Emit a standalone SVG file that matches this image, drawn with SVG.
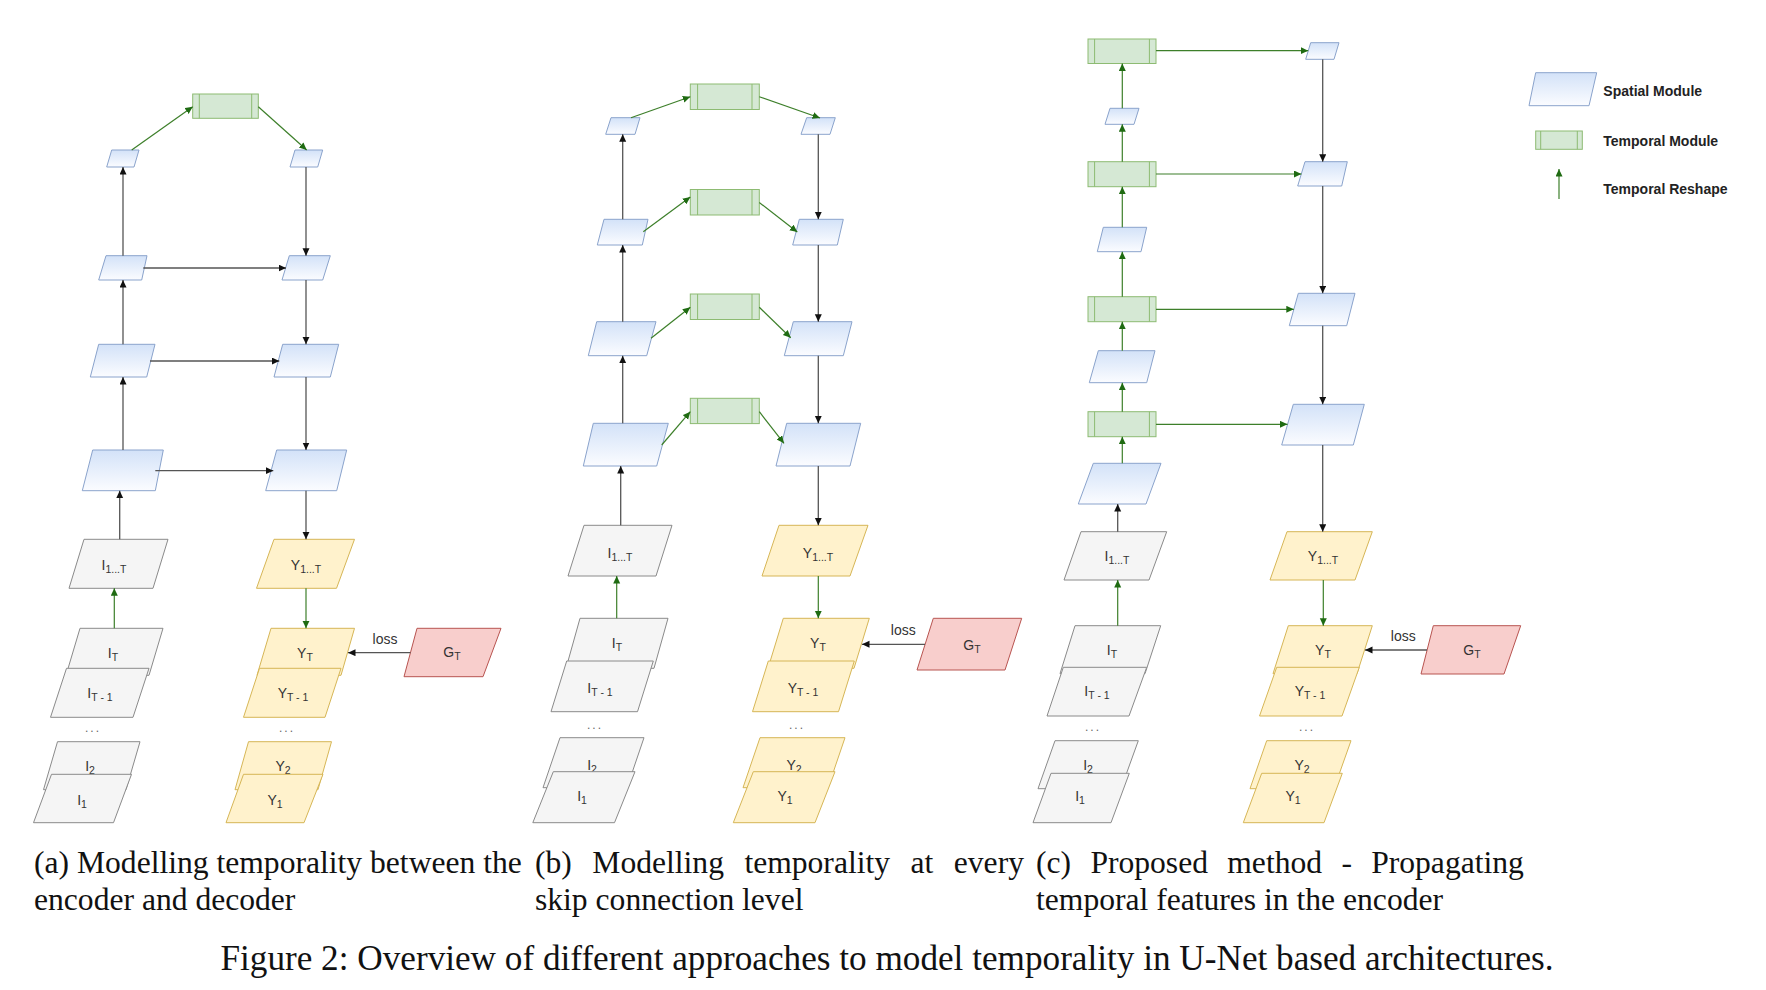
<svg xmlns="http://www.w3.org/2000/svg" width="1766" height="990" viewBox="0 0 1766 990">
<defs>
<linearGradient id="gBlue" x1="0" y1="0" x2="0" y2="1">
<stop offset="0" stop-color="#d3e2f8"/>
<stop offset="1" stop-color="#fbfcff"/>
</linearGradient>
<marker id="ab" markerWidth="9" markerHeight="8" refX="7.5" refY="3.5" orient="auto" markerUnits="userSpaceOnUse"><path d="M0,0 L7.5,3.5 L0,7 z" fill="#111"/></marker>
<marker id="ag" markerWidth="9" markerHeight="8" refX="7.5" refY="3.5" orient="auto" markerUnits="userSpaceOnUse"><path d="M0,0 L7.5,3.5 L0,7 z" fill="#1f6b12"/></marker>
<style>
.sp{fill:url(#gBlue);stroke:#8aa3cc;stroke-width:1}
.tm{fill:#d5e8d4;stroke:#8dbb72;stroke-width:1}
.tmi{stroke:#8dbb72;stroke-width:1;fill:none}
.gr{fill:#f5f5f5;stroke:#8a8a8a;stroke-width:1}
.yl{fill:#fff2cc;stroke:#d6b656;stroke-width:1}
.pk{fill:#f8cecc;stroke:#b85450;stroke-width:1}
.lbl{font-family:"Liberation Sans",Arial,sans-serif;font-size:14px;fill:#333;text-anchor:middle}
.sub{font-size:10.5px}
.dots{font-family:"Liberation Sans",Arial,sans-serif;font-size:12px;fill:#666;text-anchor:middle;letter-spacing:2px}
.blk{stroke:#555;stroke-width:1.3;fill:none;marker-end:url(#ab)}
.grn{stroke:#3d7f2a;stroke-width:1.2;fill:none;marker-end:url(#ag)}
.leg{font-family:"Liberation Sans",Arial,sans-serif;font-size:14px;font-weight:bold;fill:#222}
.cap{font-family:"Liberation Serif","Times New Roman",serif;font-size:31.6px;fill:#111}
.fig{font-family:"Liberation Serif","Times New Roman",serif;font-size:35.2px;fill:#111}
</style>
</defs>
<rect width="1766" height="990" fill="#ffffff"/>

<!-- ================= Panel (a) ================= -->
<g id="a_nodes">
<g id="a_T1"><rect class="tm" x="192.7" y="94" width="65.6" height="24.3"/><line class="tmi" x1="199.3" y1="94" x2="199.3" y2="118.3"/><line class="tmi" x1="251.7" y1="94" x2="251.7" y2="118.3"/></g>
<g id="a_L1"><polygon class="sp" points="111.7,150 139,150 134,167 106.7,167"/></g>
<g id="a_L2"><polygon class="sp" points="106,255.7 147,255.7 141.7,280 98.7,280"/></g>
<g id="a_L3"><polygon class="sp" points="98.7,344.3 155,344.3 146.7,377 90.3,377"/></g>
<g id="a_L4"><polygon class="sp" points="92.7,450 163.3,450 155.3,490.7 82.3,490.7"/></g>
<g id="a_R1"><polygon class="sp" points="295,150 322.7,150 317.7,167 290,167"/></g>
<g id="a_R2"><polygon class="sp" points="289.3,255.7 330.3,255.7 322.7,280 282,280"/></g>
<g id="a_R3"><polygon class="sp" points="282.7,344.3 338.7,344.3 330.3,377 274,377"/></g>
<g id="a_R4"><polygon class="sp" points="276.7,450 346.7,450 336.7,490.7 265.7,490.7"/></g>
<g id="a_I1T"><polygon class="gr" points="84,539.3 168,539.3 153,588.3 69,588.3"/><text class="lbl" x="114" y="570">I<tspan class="sub" dy="3">1...T</tspan></text></g>
<g id="a_IT"><polygon class="gr" points="80,628.3 163,628.3 149,675.3 66,675.3"/><text class="lbl" x="113" y="658">I<tspan class="sub" dy="3">T</tspan></text></g>
<g id="a_IT1"><polygon class="gr" points="66.5,668.3 149,668.3 133,717.3 50.5,717.3"/><text class="lbl" x="100" y="698">I<tspan class="sub" dy="3">T - 1</tspan></text></g>
<text class="dots" x="93" y="732">...</text>
<g id="a_I2"><polygon class="gr" points="57.5,741.7 140,741.7 126,789.7 43.5,789.7"/><text class="lbl" x="90" y="771">I<tspan class="sub" dy="3">2</tspan></text></g>
<g id="a_I1"><polygon class="gr" points="51.5,774.3 131.5,774.3 113.5,822.7 33.5,822.7"/><text class="lbl" x="82" y="804.5">I<tspan class="sub" dy="3">1</tspan></text></g>
<g id="a_Y1T"><polygon class="yl" points="274,539.3 354.5,539.3 336.5,588.3 256.5,588.3"/><text class="lbl" x="306" y="570">Y<tspan class="sub" dy="3">1...T</tspan></text></g>
<g id="a_YT"><polygon class="yl" points="271,628.3 354.5,628.3 341,675.3 257,675.3"/><text class="lbl" x="305" y="658">Y<tspan class="sub" dy="3">T</tspan></text></g>
<g id="a_YT1"><polygon class="yl" points="259.5,668.3 341,668.3 325,717.3 243.5,717.3"/><text class="lbl" x="293" y="698">Y<tspan class="sub" dy="3">T - 1</tspan></text></g>
<text class="dots" x="287" y="732">...</text>
<g id="a_Y2"><polygon class="yl" points="248.5,741.7 331.5,741.7 318,789.7 235,789.7"/><text class="lbl" x="283" y="771">Y<tspan class="sub" dy="3">2</tspan></text></g>
<g id="a_Y1"><polygon class="yl" points="243.5,774.3 323,774.3 304,822.7 226,822.7"/><text class="lbl" x="275" y="804.5">Y<tspan class="sub" dy="3">1</tspan></text></g>
<g id="a_GT"><polygon class="pk" points="417,628.3 501,628.3 483,676.7 404,676.7"/><text class="lbl" x="452" y="656.5">G<tspan class="sub" dy="3">T</tspan></text></g>
</g>
<g id="a_edges">
<line class="grn" x1="131.7" y1="150" x2="192.7" y2="106.7"/>
<line class="grn" x1="258.3" y1="106.7" x2="306.7" y2="150"/>
<line class="blk" x1="123" y1="255.7" x2="123" y2="167"/>
<line class="blk" x1="123" y1="344.3" x2="123" y2="280"/>
<line class="blk" x1="123" y1="450" x2="123" y2="377"/>
<line class="blk" x1="119.7" y1="539.3" x2="119.7" y2="490.7"/>
<line class="grn" x1="114.3" y1="628.3" x2="114.3" y2="588.3"/>
<line class="blk" x1="306" y1="167" x2="306" y2="255.7"/>
<line class="blk" x1="306" y1="280" x2="306" y2="344.3"/>
<line class="blk" x1="306" y1="377" x2="306" y2="450"/>
<line class="blk" x1="306" y1="490.7" x2="306" y2="539.3"/>
<line class="grn" x1="306" y1="588.3" x2="306" y2="628.3"/>
<line class="blk" x1="143.3" y1="268" x2="286" y2="268"/>
<line class="blk" x1="150" y1="361" x2="279.3" y2="361"/>
<line class="blk" x1="155.3" y1="470.7" x2="273.3" y2="470.7"/>
<line class="blk" x1="410.5" y1="652.7" x2="348" y2="652.7"/>
<text class="lbl" x="385" y="644">loss</text>
</g>

<!-- ================= Panel (b) ================= -->
<g id="b_nodes">
<g id="b_T1"><rect class="tm" x="690.3" y="84" width="69" height="25.5"/><line class="tmi" x1="697.6" y1="84" x2="697.6" y2="109.5"/><line class="tmi" x1="752" y1="84" x2="752" y2="109.5"/></g>
<g id="b_T2"><rect class="tm" x="690.3" y="189.5" width="69" height="25.5"/><line class="tmi" x1="697.6" y1="189.5" x2="697.6" y2="215"/><line class="tmi" x1="752" y1="189.5" x2="752" y2="215"/></g>
<g id="b_T3"><rect class="tm" x="690.3" y="294" width="69" height="25.5"/><line class="tmi" x1="697.6" y1="294" x2="697.6" y2="319.5"/><line class="tmi" x1="752" y1="294" x2="752" y2="319.5"/></g>
<g id="b_T4"><rect class="tm" x="690.3" y="398.3" width="69" height="25.3"/><line class="tmi" x1="697.6" y1="398.3" x2="697.6" y2="423.6"/><line class="tmi" x1="752" y1="398.3" x2="752" y2="423.6"/></g>
<g id="b_L1"><polygon class="sp" points="611,117.7 640,117.7 635,134.3 605.7,134.3"/></g>
<g id="b_L2"><polygon class="sp" points="604,219.3 648,219.3 642.3,245 597.3,245"/></g>
<g id="b_L3"><polygon class="sp" points="596.7,321.7 656,321.7 646.7,355.7 588.3,355.7"/></g>
<g id="b_L4"><polygon class="sp" points="593.3,423.3 668.3,423.3 656.7,466 583.3,466"/></g>
<g id="b_R1"><polygon class="sp" points="806.7,117.7 835.3,117.7 830,134.3 801,134.3"/></g>
<g id="b_R2"><polygon class="sp" points="799.3,219.3 843.3,219.3 837.3,245 792.7,245"/></g>
<g id="b_R3"><polygon class="sp" points="793.3,321.7 852,321.7 843.3,355.7 784.3,355.7"/></g>
<g id="b_R4"><polygon class="sp" points="786.7,423.3 860.7,423.3 850,466 776,466"/></g>
<g id="b_I1T"><polygon class="gr" points="584,525.3 672,525.3 656,576 568,576"/><text class="lbl" x="620" y="558">I<tspan class="sub" dy="3">1...T</tspan></text></g>
<g id="b_IT"><polygon class="gr" points="580,618.3 668,618.3 654,668.3 566,668.3"/><text class="lbl" x="617" y="648">I<tspan class="sub" dy="3">T</tspan></text></g>
<g id="b_IT1"><polygon class="gr" points="566.7,661 653.3,661 637.5,711.7 551,711.7"/><text class="lbl" x="600" y="693">I<tspan class="sub" dy="3">T - 1</tspan></text></g>
<text class="dots" x="595" y="729">...</text>
<g id="b_I2"><polygon class="gr" points="560,737.7 644,737.7 627,787.7 543,787.7"/><text class="lbl" x="592" y="769.5">I<tspan class="sub" dy="3">2</tspan></text></g>
<g id="b_I1"><polygon class="gr" points="553.3,771.7 635,771.7 614.5,822.7 532.8,822.7"/><text class="lbl" x="582" y="801">I<tspan class="sub" dy="3">1</tspan></text></g>
<g id="b_Y1T"><polygon class="yl" points="779,525.3 868,525.3 850,576 762,576"/><text class="lbl" x="818" y="558">Y<tspan class="sub" dy="3">1...T</tspan></text></g>
<g id="b_YT"><polygon class="yl" points="783.3,618.3 869.3,618.3 854,668.3 768,668.3"/><text class="lbl" x="818" y="648">Y<tspan class="sub" dy="3">T</tspan></text></g>
<g id="b_YT1"><polygon class="yl" points="768.3,661 854.3,661 838.5,711.7 752.5,711.7"/><text class="lbl" x="803" y="693">Y<tspan class="sub" dy="3">T - 1</tspan></text></g>
<text class="dots" x="797" y="729">...</text>
<g id="b_Y2"><polygon class="yl" points="760,737.7 845,737.7 828,787.7 743,787.7"/><text class="lbl" x="794" y="769.5">Y<tspan class="sub" dy="3">2</tspan></text></g>
<g id="b_Y1"><polygon class="yl" points="753.3,771.7 835,771.7 815,822.7 733.3,822.7"/><text class="lbl" x="785" y="801">Y<tspan class="sub" dy="3">1</tspan></text></g>
<g id="b_GT"><polygon class="pk" points="933.3,618.3 1021.7,618.3 1005,670 917,670"/><text class="lbl" x="972" y="649.5">G<tspan class="sub" dy="3">T</tspan></text></g>
</g>
<g id="b_edges">
<line class="grn" x1="631" y1="117.7" x2="690.3" y2="96.7"/>
<line class="grn" x1="759.3" y1="96.7" x2="820" y2="118"/>
<line class="grn" x1="643.3" y1="231.7" x2="690.3" y2="197"/>
<line class="grn" x1="759.3" y1="202.5" x2="797.3" y2="232"/>
<line class="grn" x1="651" y1="338.3" x2="690.3" y2="307.3"/>
<line class="grn" x1="759.3" y1="307.3" x2="790.7" y2="337.7"/>
<line class="grn" x1="661.7" y1="445" x2="690.3" y2="411.7"/>
<line class="grn" x1="759.3" y1="411.7" x2="784" y2="443.3"/>
<line class="blk" x1="622.7" y1="219.3" x2="622.7" y2="134.3"/>
<line class="blk" x1="622.7" y1="321.7" x2="622.7" y2="245"/>
<line class="blk" x1="622.7" y1="423.3" x2="622.7" y2="355.7"/>
<line class="blk" x1="620.7" y1="525.3" x2="620.7" y2="466"/>
<line class="grn" x1="616.7" y1="618.3" x2="616.7" y2="576"/>
<line class="blk" x1="818.3" y1="134.3" x2="818.3" y2="219.3"/>
<line class="blk" x1="818.3" y1="245" x2="818.3" y2="321.7"/>
<line class="blk" x1="818.3" y1="355.7" x2="818.3" y2="423.3"/>
<line class="blk" x1="818.3" y1="466" x2="818.3" y2="525.3"/>
<line class="grn" x1="818.3" y1="576" x2="818.3" y2="618.3"/>
<line class="blk" x1="925" y1="644.3" x2="862" y2="644.3"/>
<text class="lbl" x="903.3" y="634.5">loss</text>
</g>

<!-- ================= Panel (c) ================= -->
<g id="c_nodes">
<g id="c_T1"><rect class="tm" x="1088" y="39" width="68" height="24.5"/><line class="tmi" x1="1094.6" y1="39" x2="1094.6" y2="63.5"/><line class="tmi" x1="1149.4" y1="39" x2="1149.4" y2="63.5"/></g>
<g id="c_T2"><rect class="tm" x="1088" y="161.7" width="68" height="25"/><line class="tmi" x1="1094.6" y1="161.7" x2="1094.6" y2="186.7"/><line class="tmi" x1="1149.4" y1="161.7" x2="1149.4" y2="186.7"/></g>
<g id="c_T3"><rect class="tm" x="1088" y="296.7" width="68" height="25"/><line class="tmi" x1="1094.6" y1="296.7" x2="1094.6" y2="321.7"/><line class="tmi" x1="1149.4" y1="296.7" x2="1149.4" y2="321.7"/></g>
<g id="c_T4"><rect class="tm" x="1088" y="411.7" width="68" height="25"/><line class="tmi" x1="1094.6" y1="411.7" x2="1094.6" y2="436.7"/><line class="tmi" x1="1149.4" y1="411.7" x2="1149.4" y2="436.7"/></g>
<g id="c_L1"><polygon class="sp" points="1110,108.3 1139,108.3 1134,124.3 1105,124.3"/></g>
<g id="c_L2"><polygon class="sp" points="1103.3,227.3 1146.7,227.3 1141,251.7 1097.3,251.7"/></g>
<g id="c_L3"><polygon class="sp" points="1098.3,350.7 1155,350.7 1146.7,382.7 1089.3,382.7"/></g>
<g id="c_L4"><polygon class="sp" points="1093.3,463.3 1161,463.3 1146,504 1078.3,504"/></g>
<g id="c_R1"><polygon class="sp" points="1310.7,42.7 1339,42.7 1334,59.3 1305.7,59.3"/></g>
<g id="c_R2"><polygon class="sp" points="1305,161.7 1347.3,161.7 1341.7,186 1297.7,186"/></g>
<g id="c_R3"><polygon class="sp" points="1298.3,293.3 1355,293.3 1346.7,325.7 1289.3,325.7"/></g>
<g id="c_R4"><polygon class="sp" points="1293.3,404.3 1364.3,404.3 1353.3,445 1281.7,445"/></g>
<g id="c_I1T"><polygon class="gr" points="1081,531.7 1166.7,531.7 1149,580 1064,580"/><text class="lbl" x="1117" y="561">I<tspan class="sub" dy="3">1...T</tspan></text></g>
<g id="c_IT"><polygon class="gr" points="1075,625.7 1160.7,625.7 1145,673.7 1060,673.7"/><text class="lbl" x="1112" y="654.5">I<tspan class="sub" dy="3">T</tspan></text></g>
<g id="c_IT1"><polygon class="gr" points="1063.3,667.3 1146.7,667.3 1129,716 1047,716"/><text class="lbl" x="1097" y="696">I<tspan class="sub" dy="3">T - 1</tspan></text></g>
<text class="dots" x="1093" y="731">...</text>
<g id="c_I2"><polygon class="gr" points="1055,740.7 1138.3,740.7 1121,788.7 1038,788.7"/><text class="lbl" x="1088" y="769.5">I<tspan class="sub" dy="3">2</tspan></text></g>
<g id="c_I1"><polygon class="gr" points="1051,773.3 1129.3,773.3 1111,822.7 1033,822.7"/><text class="lbl" x="1080" y="801">I<tspan class="sub" dy="3">1</tspan></text></g>
<g id="c_Y1T"><polygon class="yl" points="1287,531.7 1372.3,531.7 1355,580 1270,580"/><text class="lbl" x="1323" y="561">Y<tspan class="sub" dy="3">1...T</tspan></text></g>
<g id="c_YT"><polygon class="yl" points="1288.3,625.7 1372.3,625.7 1357,673.7 1273,673.7"/><text class="lbl" x="1323" y="654.5">Y<tspan class="sub" dy="3">T</tspan></text></g>
<g id="c_YT1"><polygon class="yl" points="1276.7,667.3 1359.3,667.3 1342,716 1259.5,716"/><text class="lbl" x="1310" y="696">Y<tspan class="sub" dy="3">T - 1</tspan></text></g>
<text class="dots" x="1307" y="731">...</text>
<g id="c_Y2"><polygon class="yl" points="1266.7,740.7 1351,740.7 1334,788.7 1250,788.7"/><text class="lbl" x="1302" y="769.5">Y<tspan class="sub" dy="3">2</tspan></text></g>
<g id="c_Y1"><polygon class="yl" points="1261.7,773.3 1342.3,773.3 1324,822.7 1243.3,822.7"/><text class="lbl" x="1293" y="801">Y<tspan class="sub" dy="3">1</tspan></text></g>
<g id="c_GT"><polygon class="pk" points="1433.3,625.7 1520.7,625.7 1504,674 1421,674"/><text class="lbl" x="1472" y="654.5">G<tspan class="sub" dy="3">T</tspan></text></g>
</g>
<g id="c_edges">
<line class="grn" x1="1122.3" y1="463.3" x2="1122.3" y2="436.7"/>
<line class="grn" x1="1122.3" y1="411.7" x2="1122.3" y2="382.7"/>
<line class="grn" x1="1122.3" y1="350.7" x2="1122.3" y2="321.7"/>
<line class="grn" x1="1122.3" y1="296.7" x2="1122.3" y2="251.7"/>
<line class="grn" x1="1122.3" y1="227.3" x2="1122.3" y2="186.7"/>
<line class="grn" x1="1122.3" y1="161.7" x2="1122.3" y2="124.3"/>
<line class="grn" x1="1122.3" y1="108.3" x2="1122.3" y2="63.5"/>
<line class="blk" x1="1117.7" y1="531.7" x2="1117.7" y2="504"/>
<line class="grn" x1="1117.7" y1="625.7" x2="1117.7" y2="580"/>
<line class="grn" x1="1156" y1="50.7" x2="1308.2" y2="50.7"/>
<line class="grn" x1="1156" y1="174" x2="1301.4" y2="174"/>
<line class="grn" x1="1156" y1="309.3" x2="1293.8" y2="309.3"/>
<line class="grn" x1="1156" y1="424.3" x2="1287.5" y2="424.3"/>
<line class="blk" x1="1322.7" y1="59.3" x2="1322.7" y2="161.7"/>
<line class="blk" x1="1322.7" y1="186" x2="1322.7" y2="293.3"/>
<line class="blk" x1="1322.7" y1="325.7" x2="1322.7" y2="404.3"/>
<line class="blk" x1="1322.7" y1="445" x2="1322.7" y2="531.7"/>
<line class="grn" x1="1323.3" y1="580" x2="1323.3" y2="625.7"/>
<line class="blk" x1="1427" y1="650" x2="1365" y2="650"/>
<text class="lbl" x="1403.3" y="640.5">loss</text>
</g>

<!-- ================= Legend ================= -->
<g id="legend">
<g id="leg_spatial"><polygon class="sp" points="1535.7,72.7 1596.7,72.7 1589,105.7 1529,105.7"/><text class="leg" x="1603.3" y="95.7">Spatial Module</text></g>
<g id="leg_temporal"><rect class="tm" x="1535.7" y="131" width="46.6" height="18.3"/><line class="tmi" x1="1540.7" y1="131" x2="1540.7" y2="149.3"/><line class="tmi" x1="1577.3" y1="131" x2="1577.3" y2="149.3"/><text class="leg" x="1603.3" y="145.7">Temporal Module</text></g>
<g id="leg_reshape"><line class="grn" x1="1559" y1="199" x2="1559" y2="169"/><text class="leg" x="1603.3" y="194.3">Temporal Reshape</text></g>
</g>

<!-- ================= Captions ================= -->
<g id="captions">
<text class="cap" x="34" y="873">(a) Modelling temporality between the</text>
<text class="cap" x="34" y="910">encoder and decoder</text>
<text class="cap" y="873"><tspan x="535">(b)</tspan><tspan x="592.3">Modelling</tspan><tspan x="744.4">temporality</tspan><tspan x="910.6">at</tspan><tspan x="953.8">every</tspan></text>
<text class="cap" x="535" y="910">skip connection level</text>
<text class="cap" y="873"><tspan x="1036">(c)</tspan><tspan x="1090.4">Proposed</tspan><tspan x="1227.3">method</tspan><tspan x="1341.4">-</tspan><tspan x="1371.2">Propagating</tspan></text>
<text class="cap" x="1036" y="910">temporal features in the encoder</text>
<text class="fig" x="887" y="970" text-anchor="middle">Figure 2: Overview of different approaches to model temporality in U-Net based architectures.</text>
</g>
</svg>
